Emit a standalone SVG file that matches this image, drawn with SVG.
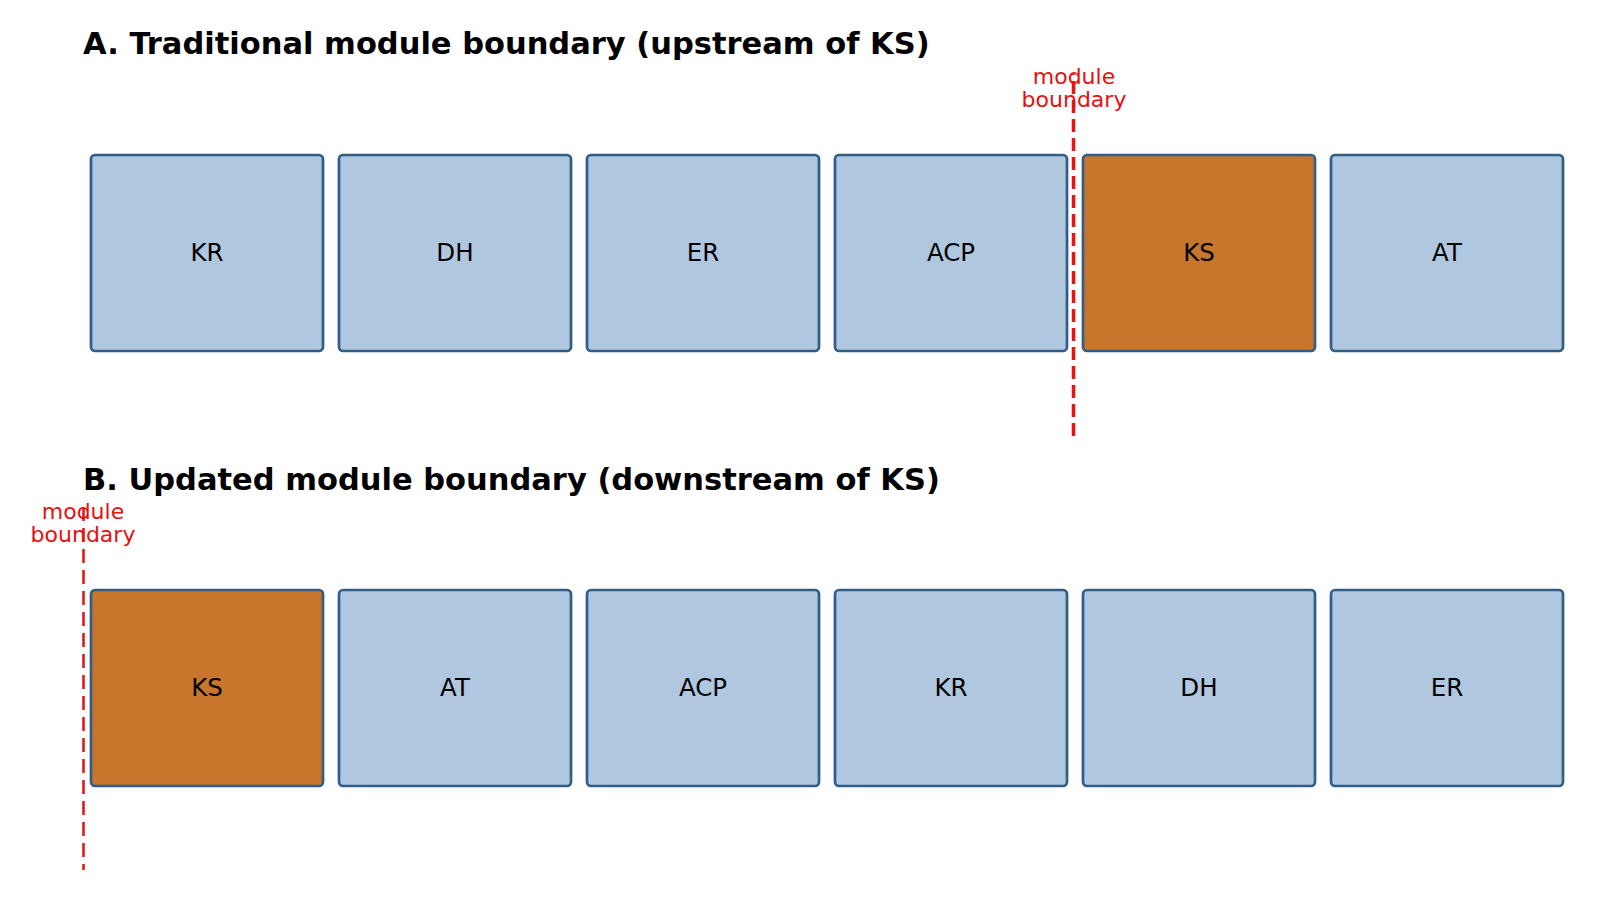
<svg xmlns="http://www.w3.org/2000/svg" width="1600" height="900" viewBox="0 0 1600 900">
<style>
.title{font-family:"DejaVu Sans",sans-serif;font-weight:bold;font-size:30.5px;fill:#000}
.box{fill:#afc8df;stroke:#325d89;stroke-width:2.7}
.ks{fill:#c8762c;stroke:#325d89;stroke-width:2.7}
.lbl{font-family:"DejaVu Sans",sans-serif;font-size:24.5px;fill:#000;text-anchor:middle}
.mb{font-family:"DejaVu Sans",sans-serif;font-size:22px;fill:#e8100f;text-anchor:middle}
</style>
<rect width="1600" height="900" fill="#fff"/>
<text class="title" x="83" y="54">A. Traditional module boundary (upstream of KS)</text>
<text class="title" x="83" y="490">B. Updated module boundary (downstream of KS)</text>
<g id="connectors">
<line x1="1073.5" y1="436" x2="1073.5" y2="74" stroke="#ee1111" stroke-width="3.5" stroke-dasharray="13,6"/>
<line x1="83.5" y1="507" x2="83.5" y2="870" stroke="#dd1515" stroke-width="2.5" stroke-dasharray="14,7"/>
</g>
<g id="a-KR"><rect class="box" x="91" y="155" width="232" height="196" rx="4"/><text class="lbl" x="207" y="261">KR</text></g>
<g id="a-DH"><rect class="box" x="339" y="155" width="232" height="196" rx="4"/><text class="lbl" x="455" y="261">DH</text></g>
<g id="a-ER"><rect class="box" x="587" y="155" width="232" height="196" rx="4"/><text class="lbl" x="703" y="261">ER</text></g>
<g id="a-ACP"><rect class="box" x="835" y="155" width="232" height="196" rx="4"/><text class="lbl" x="951" y="261">ACP</text></g>
<g id="a-KS"><rect class="ks" x="1083" y="155" width="232" height="196" rx="4"/><text class="lbl" x="1199" y="261">KS</text></g>
<g id="a-AT"><rect class="box" x="1331" y="155" width="232" height="196" rx="4"/><text class="lbl" x="1447" y="261">AT</text></g>
<g id="b-KS"><rect class="ks" x="91" y="590" width="232" height="196" rx="4"/><text class="lbl" x="207" y="696">KS</text></g>
<g id="b-AT"><rect class="box" x="339" y="590" width="232" height="196" rx="4"/><text class="lbl" x="455" y="696">AT</text></g>
<g id="b-ACP"><rect class="box" x="587" y="590" width="232" height="196" rx="4"/><text class="lbl" x="703" y="696">ACP</text></g>
<g id="b-KR"><rect class="box" x="835" y="590" width="232" height="196" rx="4"/><text class="lbl" x="951" y="696">KR</text></g>
<g id="b-DH"><rect class="box" x="1083" y="590" width="232" height="196" rx="4"/><text class="lbl" x="1199" y="696">DH</text></g>
<g id="b-ER"><rect class="box" x="1331" y="590" width="232" height="196" rx="4"/><text class="lbl" x="1447" y="696">ER</text></g>
<g id="label-a"><text class="mb" x="1074" y="84">module</text><text class="mb" x="1074" y="107">boundary</text></g>
<g id="label-b"><text class="mb" x="83" y="519">module</text><text class="mb" x="83" y="542">boundary</text></g>
</svg>
